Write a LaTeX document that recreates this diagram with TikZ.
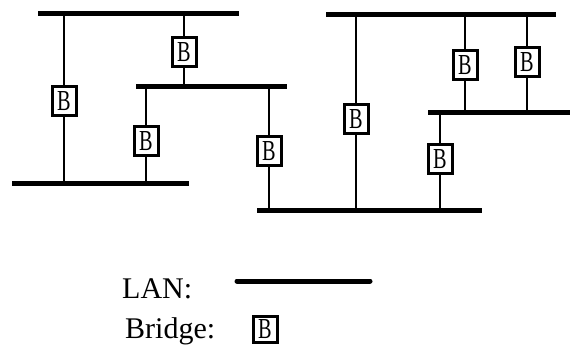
\documentclass[tikz,border=0pt]{standalone}
\usepackage{fontspec}
\setmainfont{Liberation Serif}
\usepackage{graphicx}
\begin{document}
\begin{tikzpicture}[x=1pt,y=-1pt,
  lanline/.style={line width=5pt},
  wire/.style={line width=2pt},
  bridgebox/.style={draw, line width=3pt, fill=white, minimum width=24pt, minimum height=29pt, inner sep=0pt,
    font=\fontsize{29}{29}\selectfont},
  legtext/.style={anchor=base west, inner sep=0pt, font=\fontsize{30}{36}\selectfont}]
\useasboundingbox (0,0) rectangle (571,345);
% LAN end coordinates
\coordinate (l1a) at (38,14);   \coordinate (l1b) at (239,14);
\coordinate (l2a) at (136,87);  \coordinate (l2b) at (287,87);
\coordinate (l3a) at (12,183);  \coordinate (l3b) at (189,183);
\coordinate (l4a) at (326,15);  \coordinate (l4b) at (556,15);
\coordinate (l5a) at (428,113); \coordinate (l5b) at (570,113);
\coordinate (l6a) at (257,210); \coordinate (l6b) at (482,210);
\foreach \l in {1,...,6} \draw[lanline] (l\l a) -- (l\l b);
% bridges
\newcommand{\bglyph}{\scalebox{0.7}[1]{B}}
\node[bridgebox] (b1) at (64,101) {\bglyph};
\node[bridgebox] (b2) at (184,52) {\bglyph};
\node[bridgebox] (b3) at (146,141) {\bglyph};
\node[bridgebox] (b4) at (269,151) {\bglyph};
\node[bridgebox] (b5) at (356,119) {\bglyph};
\node[bridgebox] (b6) at (465,65) {\bglyph};
\node[bridgebox] (b7) at (527,62) {\bglyph};
\node[bridgebox] (b8) at (440,159) {\bglyph};
% connectors
\draw[wire] (b1.north) -- (b1 |- l1a); \draw[wire] (b1.south) -- (b1 |- l3a);
\draw[wire] (b2.north) -- (b2 |- l1a); \draw[wire] (b2.south) -- (b2 |- l2a);
\draw[wire] (b3.north) -- (b3 |- l2a); \draw[wire] (b3.south) -- (b3 |- l3a);
\draw[wire] (b4.north) -- (b4 |- l2a); \draw[wire] (b4.south) -- (b4 |- l6a);
\draw[wire] (b5.north) -- (b5 |- l4a); \draw[wire] (b5.south) -- (b5 |- l6a);
\draw[wire] (b6.north) -- (b6 |- l4a); \draw[wire] (b6.south) -- (b6 |- l5a);
\draw[wire] (b7.north) -- (b7 |- l4a); \draw[wire] (b7.south) -- (b7 |- l5a);
\draw[wire] (b8.north) -- (b8 |- l5a); \draw[wire] (b8.south) -- (b8 |- l6a);
% legend
\node[legtext] (lanlabel) at (122,298) {LAN:};
\node[legtext] (bridgelabel) at (125,338) {Bridge:};
\coordinate (lega) at (237,281); \coordinate (legb) at (370,281);
\draw[lanline, line cap=round] (lega) -- (legb);
\node[bridgebox, minimum height=26pt] (legbox) at (265,329.5) {\bglyph};
\end{tikzpicture}
\end{document}
